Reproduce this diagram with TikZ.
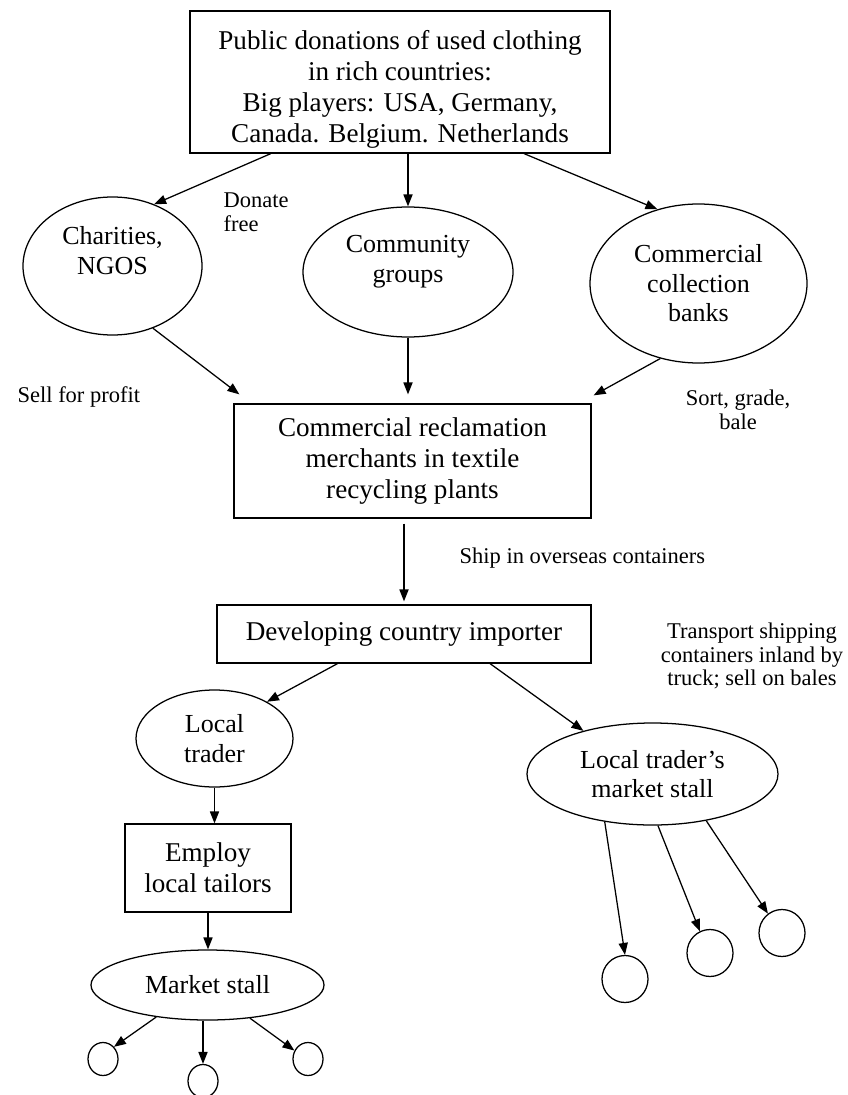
\documentclass[tikz,border=0pt]{standalone}
\usepackage{fontspec}
\setmainfont{Liberation Serif}
\usetikzlibrary{shapes.geometric, arrows.meta}

\begin{document}
\begin{tikzpicture}[>={Triangle[length=8.5pt,width=6.5pt]}, line width=0.9pt]

\tikzstyle{box} = [draw, rectangle, align=center, inner sep=2pt, font=\fontsize{19.3}{22}\selectfont]
\tikzstyle{oval} = [draw, ellipse, align=center, inner sep=1pt, font=\fontsize{18.5}{21}\selectfont]
\tikzstyle{bale} = [draw, ellipse, inner sep=0pt]
\tikzstyle{annot} = [align=center, inner sep=0pt, font=\fontsize{16}{17}\selectfont]

\useasboundingbox (0,0) rectangle (21.2,-27.375);

% boxes and ovals
\node[box, minimum width=10.5cm, minimum height=3.55cm] (donations) at (10.0,-2.05)
  {\rule{0pt}{24pt}Public donations of used clothing\\ in rich countries:\\ Big players: USA, Germany,\\ Canada. Belgium. Netherlands};

\node[oval, minimum width=4.475cm, minimum height=3.45cm] (charities) at (2.8125,-6.65) {Charities,\\ NGOS\rule[-22pt]{0pt}{0pt}};
\node[oval, minimum width=5.25cm, minimum height=3.25cm] (community) at (10.2,-6.8) {Community\\ groups\rule[-19pt]{0pt}{0pt}};
\node[oval, minimum width=5.425cm, minimum height=3.975cm] (banks) at (17.4625,-7.0875) {Commercial\\ collection\\ banks};

\node[box, minimum width=8.925cm, minimum height=2.85cm] (merchants) at (10.3125,-11.525)
  {Commercial reclamation\\ merchants in textile\\ recycling plants};
\node[box, minimum width=9.35cm, minimum height=1.45cm] (importer) at (10.1,-15.85) {Developing country importer};

\node[oval, minimum width=3.925cm, minimum height=2.425cm] (trader) at (5.3625,-18.4625) {Local\\ trader};
\node[oval, minimum width=6.275cm, minimum height=2.55cm] (traderstall) at (16.3125,-19.35) {Local trader’s\\ market stall};
\node[box, minimum width=4.15cm, minimum height=2.2cm] (tailors) at (5.2,-21.7) {Employ\\ local tailors};
\node[oval, minimum width=5.825cm, minimum height=1.75cm] (stall) at (5.1875,-24.625) {Market stall};

\node[bale, minimum width=0.75cm, minimum height=0.825cm] (buyer1) at (2.575,-26.475) {};
\node[bale, minimum width=0.75cm, minimum height=0.825cm] (buyer2) at (5.075,-27.025) {};
\node[bale, minimum width=0.75cm, minimum height=0.825cm] (buyer3) at (7.7,-26.475) {};

\node[bale, minimum width=1.15cm, minimum height=1.175cm] (seller1) at (15.625,-24.475) {};
\node[bale, minimum width=1.15cm, minimum height=1.175cm] (seller2) at (17.75,-23.825) {};
\node[bale, minimum width=1.15cm, minimum height=1.175cm] (seller3) at (19.55,-23.325) {};

% side notes
\node[annot, anchor=west, align=left] (donate) at (5.575,-5.3) {Donate\\ free};
\node[annot, anchor=west] (profit) at (0.425,-9.925) {Sell for profit};
\node[annot] (sort) at (18.45,-10.25) {Sort, grade,\\ bale};
\node[annot, anchor=west] (ship) at (11.475,-13.95) {Ship in overseas containers};
\node[annot] (transport) at (18.8,-16.4) {Transport shipping\\ containers inland by\\ truck; sell on bales};

% arrows
\draw [->] (donations.209.2) -- (charities.56.4);
\draw [->] (donations.south -| community.north) -- (community.north);
\draw [->] (donations.330.8) -- (banks.119.6);

\draw [->] (charities.303) -- ([shift={(0.15,0.225)}]merchants.north west);
\draw [->] (community.south) -- ([yshift=0.225cm]community.south |- merchants.north);
\draw [->] (banks.243.3) -- ([shift={(0.05,0.2)}]merchants.north east);

\draw [->, shorten <=0.125cm, shorten >=0.075cm] (merchants.south -| importer.north) -- (importer.north);

\draw [->] (importer.204.4) -- (trader.35);
\draw [->] (importer.341.4) -- (traderstall.148.4);

\draw [->] (trader.south) -- (trader.south |- tailors.north);
\draw [->] (tailors.south) -- (tailors.south |- stall.north);

\draw [->] (stall.212) -- (buyer1.48.6);
\draw [->] (buyer2.north |- stall.south) -- (buyer2.north);
\draw [->] (stall.322.4) -- (buyer3.148.6);

\draw [->] (traderstall.225.9) -- (seller1.north);
\draw [->] (traderstall.276) -- (seller2.115.6);
\draw [->] (traderstall.319.6) -- (seller3.126.5);

\end{tikzpicture}
\end{document}
